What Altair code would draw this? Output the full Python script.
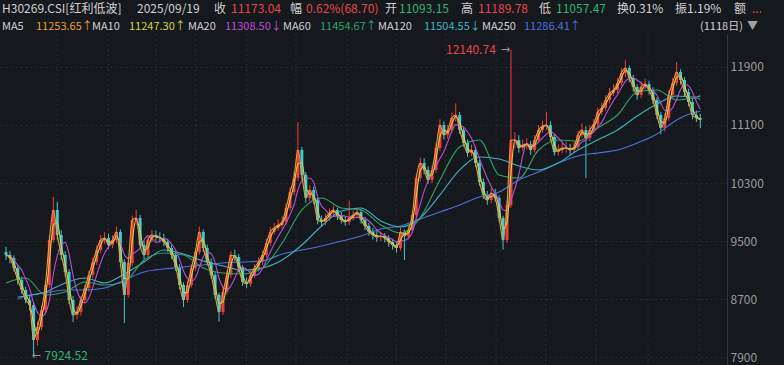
import altair as alt
import pandas as pd

# ---------------- data ----------------
closes = [
    9307, 9266, 9128, 8963, 8825, 8687, 8618, 8135, 8315, 8549,
    8894, 9514, 9928, 9583, 9307, 9073, 8687, 8480, 8521, 8687,
    8852, 9032, 9211, 9376, 9514, 9542, 9445, 9514, 9625, 9211,
    8756, 9197, 9790, 9818, 9445, 9307, 9514, 9583, 9556, 9542,
    9487, 9404, 9307, 9142, 8894, 8687, 8894, 9128, 9349, 9625,
    9404, 9211, 9032, 8756, 8521, 8797, 9032, 9307, 9280, 9128,
    8935, 8908, 9032, 9128, 9211, 9307, 9473, 9625, 9680, 9721,
    9763, 9956, 10176, 10369, 10755, 10411, 10094, 10204, 10066, 9790,
    9763, 9818, 9887, 9928, 9845, 9790, 9763, 9818, 9859, 9900,
    9790, 9707, 9625, 9583, 9556, 9569, 9542, 9487, 9445, 9404,
    9625, 9569, 9652, 9859, 10369, 10576, 10480, 10342, 10480, 10783,
    11100, 10962, 11031, 11197, 11238, 11031, 10852, 10714, 10755, 10576,
    10314, 10135, 10066, 10162, 10094, 9818, 9514, 9997, 10893, 10893,
    10783, 10824, 10838, 10755, 10893, 11031, 11086, 11100, 10935, 10728,
    10755, 10783, 10783, 10755, 10797, 10962, 11031, 10921, 11031, 11114,
    11279, 11335, 11445, 11541, 11583, 11679, 11817, 11886, 11748, 11624,
    11514, 11624, 11666, 11583, 11445, 11238, 11059, 11197, 11514, 11679,
    11831, 11721, 11555, 11417, 11238, 11197, 11173.04,
]
highs = [
    9420, 9360, 9300, 9170, 9010, 8870, 8760, 8650, 8390, 8610,
    8950, 9580, 10110, 10040, 9650, 9360, 9110, 8740, 8600, 8740,
    8900, 9090, 9270, 9440, 9580, 9620, 9600, 9580, 9700, 9660,
    9250, 9260, 9850, 9930, 9860, 9500, 9570, 9650, 9640, 9620,
    9600, 9530, 9450, 9350, 9180, 8930, 8950, 9180, 9400, 9700,
    9660, 9450, 9260, 9070, 8790, 8850, 9090, 9360, 9380, 9320,
    9170, 9000, 9090, 9180, 9270, 9370, 9530, 9690, 9750, 9800,
    9840, 10020, 10240, 10450, 11140, 10800, 10450, 10270, 10250, 10100,
    9850, 9880, 9950, 9990, 9960, 9900, 9840, 10060, 9920, 9960,
    9940, 9830, 9750, 9680, 9640, 9630, 9610, 9580, 9530, 9490,
    9690, 9660, 9710, 9920, 10430, 10650, 10640, 10530, 10540, 10850,
    11180, 11150, 11100, 11270, 11400, 11280, 11070, 10900, 10830, 10800,
    10620, 10360, 10190, 10230, 10220, 10130, 9850, 10060, 12140.74, 11000,
    10960, 10900, 10920, 10880, 10960, 11100, 11160, 11280, 11150, 10970,
    10830, 10860, 10870, 10840, 10870, 11020, 11120, 11080, 11100, 11180,
    11340, 11410, 11510, 11610, 11660, 11750, 11880, 12000, 11920, 11790,
    11660, 11700, 11740, 11710, 11620, 11480, 11280, 11260, 11580, 11750,
    11970, 11870, 11760, 11600, 11460, 11300, 11250,
]
lows = [
    9240, 9190, 9080, 8900, 8770, 8640, 8540, 7924.52, 8060, 8270,
    8500, 8860, 9480, 9520, 9240, 9010, 8630, 8380, 8420, 8470,
    8640, 8800, 8990, 9170, 9330, 9460, 9390, 9400, 9470, 9150,
    8370, 8720, 9150, 9720, 9390, 9250, 9270, 9480, 9500, 9480,
    9430, 9350, 9250, 9090, 8830, 8590, 8650, 8860, 9090, 9310,
    9350, 9160, 8980, 8700, 8390, 8480, 8760, 8990, 9220, 9070,
    8880, 8850, 8870, 8990, 9080, 9170, 9270, 9430, 9590, 9640,
    9670, 9720, 9920, 10130, 10330, 10350, 10030, 10050, 10010, 9730,
    9700, 9720, 9780, 9860, 9790, 9740, 9710, 9720, 9780, 9820,
    9740, 9650, 9570, 9520, 9490, 9500, 9480, 9420, 9380, 9340,
    9370, 9240, 9520, 9610, 9820, 10320, 10420, 10290, 10300, 10440,
    10740, 10900, 10910, 10990, 11150, 10980, 10800, 10660, 10670, 10520,
    10260, 10080, 10000, 10020, 10040, 9760, 9380, 9470, 9960, 10780,
    10720, 10740, 10760, 10690, 10720, 10850, 10990, 11030, 10880, 10680,
    10680, 10710, 10720, 10690, 10720, 10760, 10930, 10370, 10880, 10990,
    11070, 11240, 11300, 11400, 11500, 11540, 11640, 11760, 11690, 11560,
    11450, 11470, 11590, 11520, 11390, 11180, 10970, 11010, 11160, 11470,
    11640, 11660, 11500, 11360, 11180, 11140, 11057.47,
]
first_open = 9350

ma60_idx = [0] + list(range(5, 176, 5)) + [176]
ma60_val = [8921, 8990, 8756, 8797, 8935, 8894, 8935, 9238, 9335, 9307,
            9128, 9059, 9045, 9128, 9473, 9928, 10094, 9956, 9928, 9721,
            9611, 9818, 10342, 10797, 10893, 10411, 10369, 10755, 10893, 10879,
            11059, 11238, 11555, 11583, 11445, 11472, 11454.67]
ma_long_idx = [3] + list(range(5, 176, 5)) + [176]
ma120_val = [8728, 8742, 8797, 8921, 8990, 8921, 9045, 9211, 9376, 9321,
             9225, 9156, 9100, 9128, 9238, 9445, 9707, 9914, 9956, 9776,
             9694, 9818, 10135, 10480, 10659, 10631, 10535, 10480, 10576, 10755,
             10893, 11031, 11224, 11390, 11500, 11486, 11504.55]
ma250_val = [8701, 8742, 8783, 8825, 8825, 8852, 8963, 9073, 9114, 9142,
             9170, 9197, 9211, 9225, 9321, 9376, 9431, 9500, 9569, 9666,
             9707, 9804, 9900, 9997, 10107, 10176, 10342, 10452, 10576, 10673,
             10714, 10755, 10852, 10976, 11169, 11279, 11286.41]

y_ticks = [7900, 8700, 9500, 10300, 11100, 11900]
vgrid_idx = [13, 26, 38, 48, 61, 73.5, 86.5, 99, 111.5, 124.25, 136.75, 149.5, 162.75, 175.75]

# header, row 0
h0_text = ["H30269.CSI[红利低波]", "2025/09/19", "收", "11173.04", "幅", "0.62%(68.70)",
           "开", "11093.15", "高", "11189.78", "低", "11057.47", "换0.31%", "振1.19%", "额", "..."]
h0_x = [2, 137, 214, 231, 290, 306, 385, 399, 461, 478, 539, 556, 617, 675, 734, 752]
# header, row 1
h1_text = ["MA5", "11253.65↑", "MA10", "11247.30↑", "MA20", "11308.50↓", "MA60", "11454.67↑",
           "MA120", "11504.55↓", "MA250", "11286.41↑", "(1118日)", "▼"]
h1_x = [2, 36, 92, 129, 188, 225, 283, 320, 378, 424, 482, 524, 700, 747]

# ---------------- styles ----------------
BG = "#15181c"
TXT = "#d2d2d2"
RED = "#e8464c"
GRN = "#2fb673"
C_UP = "#f23d3d"
C_DN = "#3fc9d2"
C_MA5 = "#ec9c3a"
C_MA10 = "#d3d24c"
C_MA20 = "#b94fd8"
C_MA60 = "#2fa36b"
C_MA120 = "#3fb3c6"
C_MA250 = "#4a72e0"
h0_color = [TXT, TXT, TXT, RED, TXT, RED, TXT, GRN, TXT, RED, TXT, GRN, TXT, TXT, TXT, RED]
h1_color = [TXT, C_MA5, TXT, C_MA10, TXT, C_MA20, TXT, C_MA60, TXT, C_MA120, TXT, C_MA250, TXT, "#a0a0a0"]

W, H, TOP = 727, 331, 34
FONT = "Noto Sans CJK SC"

# ---------------- tables ----------------
idx = list(range(len(closes)))
opens = [first_open] + closes[:-1]
candles = pd.DataFrame({"i": idx, "open": opens, "high": highs, "low": lows, "close": closes})
candles["dir"] = ["up" if c >= o else "down" for o, c in zip(opens, closes)]

long_ma = pd.concat([
    pd.DataFrame({"i": ma60_idx, "v": ma60_val, "k": "MA60"}),
    pd.DataFrame({"i": ma_long_idx, "v": ma120_val, "k": "MA120"}),
    pd.DataFrame({"i": ma_long_idx, "v": ma250_val, "k": "MA250"}),
])

xscale = alt.Scale(domain=[-0.25, 181.5], nice=False, zero=False)
yscale = alt.Scale(domain=[7790, 12355], nice=False, zero=False)
yaxis = alt.Axis(orient="right", values=y_ticks, title=None, ticks=False, format="d",
                 labelColor="#9c9c9c", labelFontSize=12, labelFont=FONT, labelPadding=3,
                 labelBaseline="middle", domain=True, domainColor="#34383e",
                 grid=True, gridColor="#2a2e34", gridDash=[2, 3], gridWidth=1)
X = alt.X("i:Q", scale=xscale, axis=None)


def Y(field):
    return alt.Y(f"{field}:Q", scale=yscale, axis=yaxis)


cscale = alt.Scale(domain=["up", "down"], range=[C_UP, C_DN])

vgrid = alt.Chart(pd.DataFrame({"i": vgrid_idx})).mark_rule(
    color="#2a2e34", strokeDash=[2, 3], strokeWidth=1
).encode(x=X, y=alt.value(0), y2=alt.value(H))

base = alt.Chart(candles)
wicks = base.mark_rule(strokeWidth=1).encode(
    x=X, y=Y("low"), y2="high:Q", color=alt.Color("dir:N", scale=cscale, legend=None))
bodies = base.mark_bar(size=3).encode(
    x=X, y=Y("open"), y2="close:Q", color=alt.Color("dir:N", scale=cscale, legend=None))


def long_line(key, color):
    return alt.Chart(long_ma).transform_filter(alt.datum.k == key).mark_line(
        color=color, strokeWidth=1.1, interpolate="monotone").encode(x=X, y=Y("v"))


def win_line(n, color):
    return base.transform_window(
        m="mean(close)", frame=[-n, 0], sort=[alt.SortField("i")]
    ).mark_line(color=color, strokeWidth=1.1, interpolate="monotone").encode(x=X, y=Y("m"))


ma5 = base.mark_line(color=C_MA5, strokeWidth=1.1, interpolate="monotone").encode(x=X, y=Y("close"))
ma10 = win_line(1, C_MA10)
ma20 = win_line(4, C_MA20)

# extreme annotations
hi_i = highs.index(max(highs))
lo_i = lows.index(min(lows))
hi_df = pd.DataFrame({"i": [hi_i], "v": [max(highs)], "t": [f"{max(highs):.2f}"]})
lo_df = pd.DataFrame({"i": [lo_i], "v": [min(lows)], "t": [f"{min(lows):.2f}"]})
hi_txt = alt.Chart(hi_df).mark_text(align="right", baseline="middle", dx=-15, color=RED,
                                    fontSize=12, font=FONT).encode(x=X, y=Y("v"), text="t:N")
hi_arr = alt.Chart(hi_df).mark_text(align="right", baseline="middle", dx=-1, color="#9a9a9a",
                                    fontSize=11, font="DejaVu Sans", text="→").encode(x=X, y=Y("v"))
lo_txt = alt.Chart(lo_df).mark_text(align="left", baseline="middle", dx=11, dy=1, color=GRN,
                                    fontSize=12, font=FONT).encode(x=X, y=Y("v"), text="t:N")
lo_arr = alt.Chart(lo_df).mark_text(align="left", baseline="middle", dx=-2, dy=1, color="#9a9a9a",
                                    fontSize=11, font="DejaVu Sans", text="←").encode(x=X, y=Y("v"))

one = pd.DataFrame({"a": [0]})
hdr_layers = []
for t, xx, c in zip(h0_text, h0_x, h0_color):
    hdr_layers.append(alt.Chart(one).mark_text(
        align="left", baseline="middle", fontSize=12, font=FONT, color=c, text=t
    ).encode(x=alt.value(xx), y=alt.value(9 - TOP)))
for t, xx, c in zip(h1_text, h1_x, h1_color):
    hdr_layers.append(alt.Chart(one).mark_text(
        align="left", baseline="middle", fontSize=11, font=FONT, color=c, text=t
    ).encode(x=alt.value(xx), y=alt.value(26.5 - TOP)))

chart = alt.layer(
    vgrid, wicks, bodies,
    long_line("MA250", C_MA250), long_line("MA120", C_MA120), long_line("MA60", C_MA60),
    ma20, ma10, ma5,
    hi_txt, hi_arr, lo_txt, lo_arr,
    *hdr_layers,
).properties(
    width=W, height=H,
    autosize=alt.AutoSizeParams(type="none"),
    padding={"left": 0, "top": TOP, "right": 784 - W, "bottom": 0},
    background=BG,
).configure_view(stroke=None, fill=BG)

chart.save("out.html", embed_options={"renderer": "svg", "actions": False})
